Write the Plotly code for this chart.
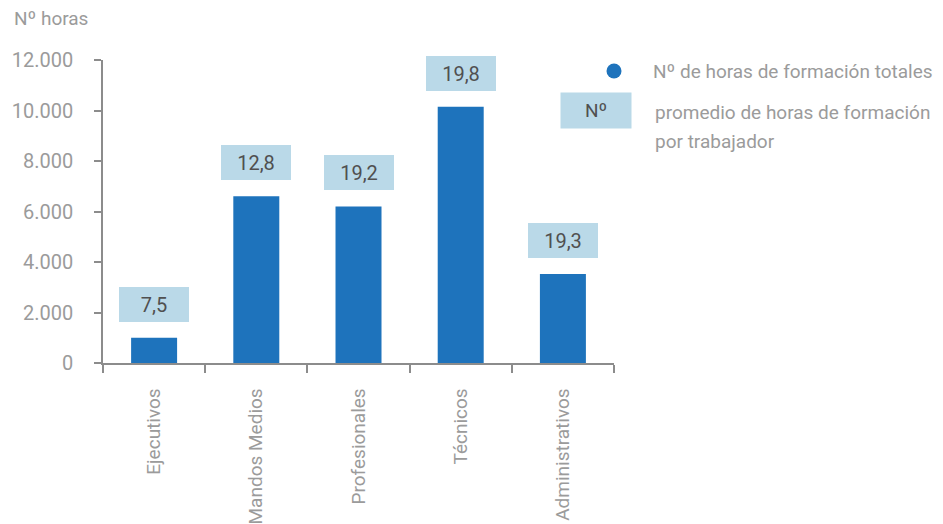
import plotly.graph_objects as go

categories = ["Ejecutivos", "Mandos Medios", "Profesionales", "Técnicos", "Administrativos"]
total_hours = [1000, 6600, 6200, 10150, 3520]
avg_hours = ["7,5", "12,8", "19,2", "19,8", "19,3"]
y_ticks = [0, 2000, 4000, 6000, 8000, 10000, 12000]

BAR = "#1e73bc"
BOX = "#bad9e8"
GREY = "#9b9b9b"
DARK = "#505050"
AXIS = "#8c8c8c"
FONT = "Roboto"

# plot area in screen pixels (reference): x 103..614, y 60..363
PX0, PX1, PY0, PY1 = 103, 614, 60, 363
PW, PH = PX1 - PX0, PY1 - PY0
OFF = 8  # page offset of the figure
W, H = 943 - OFF, 524 - OFF


def px(x):
    return (x - PX0) / PW


def py(y):
    return (PY1 - y) / PH


fig = go.Figure()
fig.add_trace(go.Bar(x=categories, y=total_hours, width=0.45,
                     marker=dict(color=BAR, line=dict(width=0)),
                     showlegend=False, hoverinfo="skip"))

annotations = []
for c, v, a in zip(categories, total_hours, avg_hours):
    annotations.append(dict(x=c, y=v, xref="x", yref="y", text=a, showarrow=False,
                            yanchor="bottom", yshift=16, width=70, height=35,
                            bgcolor=BOX, borderpad=0, borderwidth=0,
                            font=dict(family=FONT, size=20, color=DARK)))

annotations.append(dict(x=px(12), y=py(18), xref="paper", yref="paper",
                        text="Nº horas", showarrow=False, xanchor="left", yanchor="middle",
                        font=dict(family=FONT, size=19, color=GREY)))
annotations.append(dict(x=px(651), y=py(71), xref="paper", yref="paper",
                        text="Nº de horas de formación totales", showarrow=False,
                        xanchor="left", yanchor="middle",
                        font=dict(family=FONT, size=19, color=GREY)))
annotations.append(dict(x=px(596), y=py(110.5), xref="paper", yref="paper",
                        text="Nº", showarrow=False, xanchor="center", yanchor="middle",
                        width=70, height=35, bgcolor=BOX, borderpad=0,
                        font=dict(family=FONT, size=19, color=DARK)))
annotations.append(dict(x=px(653), y=py(112), xref="paper", yref="paper",
                        text="promedio de horas de formación", showarrow=False,
                        xanchor="left", yanchor="middle",
                        font=dict(family=FONT, size=19, color=GREY)))
annotations.append(dict(x=px(653), y=py(141), xref="paper", yref="paper",
                        text="por trabajador", showarrow=False,
                        xanchor="left", yanchor="middle",
                        font=dict(family=FONT, size=19, color=GREY)))

shapes = [dict(type="circle", xref="paper", yref="paper", xsizemode="pixel", ysizemode="pixel",
               xanchor=px(614), yanchor=py(71), x0=-7.5, x1=7.5, y0=-7.5, y1=7.5,
               fillcolor=BAR, line=dict(width=0))]

fig.update_layout(
    width=W, height=H,
    margin=dict(l=PX0 - OFF, r=W - (PX1 - OFF), t=PY0 - OFF, b=H - (PY1 - OFF), autoexpand=False),
    paper_bgcolor="white", plot_bgcolor="white",
    separators=",.",
    font=dict(family=FONT, size=19, color=GREY),
    annotations=annotations, shapes=shapes,
)
fig.update_yaxes(range=[0, 12000], tickvals=y_ticks, tickformat=",d", separatethousands=True,
                 automargin=False,
                 showgrid=False, zeroline=False, showline=True, linecolor=AXIS, linewidth=1.5,
                 ticks="outside", ticklen=7, tickcolor=AXIS, tickwidth=1.5,
                 ticklabelstandoff=17, tickfont=dict(family=FONT, size=20, color=GREY))
fig.update_xaxes(automargin=False,
                 showgrid=False, zeroline=False, showline=True, linecolor=AXIS, linewidth=1.5,
                 ticks="outside", ticklen=8, tickcolor=AXIS, tickwidth=1.5, tickson="boundaries",
                 tickangle=-90, ticklabelstandoff=16,
                 tickfont=dict(family=FONT, size=19, color=GREY))

fig.write_html("out.html")
